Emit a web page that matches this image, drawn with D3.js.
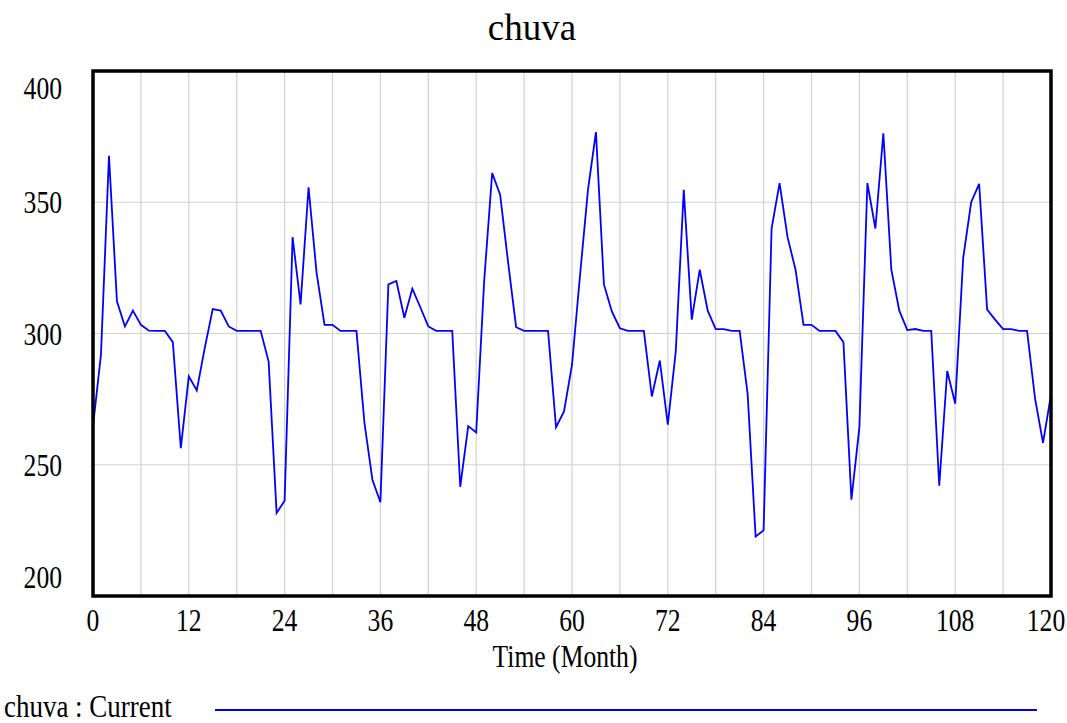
<!DOCTYPE html>
<html>
<head>
<meta charset="utf-8">
<script src="https://cdn.jsdelivr.net/npm/d3@7"></script>
<style>
  body { margin: 0; background: #fff; }
  svg text { font-family: 'Liberation Serif', 'Times New Roman', serif; fill: #000; }
</style>
</head>
<body>
<div id="chart"></div>
<script>
const months = d3.range(0, 121)
const chuva = [
  264.7, 292, 367.7, 312.3, 302.7, 308.7, 303.3, 301.1, 301, 301,
  296.7, 256.3, 283.7, 278.3, 294.5, 309.3, 308.7, 302.7, 301, 301,
  301, 301, 289.3, 231.6, 236.3, 336.7, 311.1, 355.7, 323.3, 303.3,
  303.3, 301, 301, 301, 266, 244.3, 235.7, 318.7, 320, 306,
  317.1, 310, 302.7, 301, 301, 301, 241.6, 264.7, 262.3, 320,
  361.1, 352.9, 327, 302.4, 301, 301, 301, 301, 264.3, 270.3,
  288, 322, 354.7, 376.7, 318.7, 308.3, 302, 301, 301, 301,
  276, 289.7, 265.3, 293.3, 354.7, 305.3, 324.3, 308.7, 301.7, 301.7,
  301, 301, 277, 222.7, 225, 340, 357.3, 336.7, 324.3, 303.3,
  303.3, 301, 301, 301, 296.7, 236.7, 264.3, 357.3, 340, 376.3,
  324.3, 308.7, 301.3, 301.7, 301, 301, 242, 285.7, 273.3, 328.7,
  350, 357, 309.1, 305.3, 301.7, 301.7, 301, 301, 275.3, 258.3,
  276.7
]
const xTicks = [0, 12, 24, 36, 48, 60, 72, 84, 96, 108, 120]
const xGrid = d3.range(0, 121, 6)
const yTicks = [200, 250, 300, 350, 400]

const width = 1067
const height = 723
const plotLeft = 93
const plotRight = 1051
const plotTop = 71
const plotBottom = 596
const squeeze = 0.8

const svg = d3.select('#chart').append('svg')
  .attr('width', width)
  .attr('height', height)

const x = d3.scaleLinear().domain([0, 120]).range([plotLeft, plotRight])
const y = d3.scaleLinear().domain([200, 400]).range([plotBottom, plotTop])

// narrow text like the Vensim output
const label = (g, px, py, txt, size, anchor, sx = squeeze) => g.append('text')
  .attr('transform', `translate(${px},${py}) scale(${sx},1)`)
  .attr('text-anchor', anchor)
  .attr('font-size', size)
  .text(txt)

// grid
svg.append('g')
  .selectAll('line')
  .data(xGrid.slice(1, -1))
  .join('line')
  .attr('x1', d => x(d))
  .attr('x2', d => x(d))
  .attr('y1', plotTop)
  .attr('y2', plotBottom)
  .attr('stroke', '#d2d2d2')
  .attr('stroke-width', 1.2)

svg.append('g')
  .selectAll('line')
  .data(yTicks.slice(1, -1))
  .join('line')
  .attr('x1', plotLeft)
  .attr('x2', plotRight)
  .attr('y1', d => y(d))
  .attr('y2', d => y(d))
  .attr('stroke', '#d2d2d2')
  .attr('stroke-width', 1.2)

// series
const line = d3.line()
  .x((d, i) => x(months[i]))
  .y(d => y(d))

svg.append('path')
  .datum(chuva)
  .attr('d', line)
  .attr('fill', 'none')
  .attr('stroke', '#0000ff')
  .attr('stroke-width', 1.8)

// frame
svg.append('rect')
  .attr('x', plotLeft)
  .attr('y', plotTop)
  .attr('width', plotRight - plotLeft)
  .attr('height', plotBottom - plotTop)
  .attr('fill', 'none')
  .attr('stroke', '#000')
  .attr('stroke-width', 3.5)

// tick labels
const xg = svg.append('g')
xTicks.forEach(d => {
  const px = d === 120 ? x(d) - 5 : x(d)
  label(xg, px, 631, d, 32, 'middle')
})

const yg = svg.append('g')
yTicks.forEach(d => {
  const py = d === 400 ? y(d) + 28 : d === 200 ? y(d) - 8 : y(d) + 11
  label(yg, 62, py, d, 32, 'end')
})

label(svg, 565, 667, 'Time (Month)', 32, 'middle')

svg.append('text')
  .attr('x', 532)
  .attr('y', 40)
  .attr('text-anchor', 'middle')
  .attr('font-size', 37)
  .text('chuva')

// legend
label(svg, 4, 717, 'chuva : Current', 31, 'start', 0.87)

svg.append('line')
  .attr('x1', 215)
  .attr('x2', 1037)
  .attr('y1', 710)
  .attr('y2', 710)
  .attr('stroke', '#0000ff')
  .attr('stroke-width', 1.8)
</script>
</body>
</html>
